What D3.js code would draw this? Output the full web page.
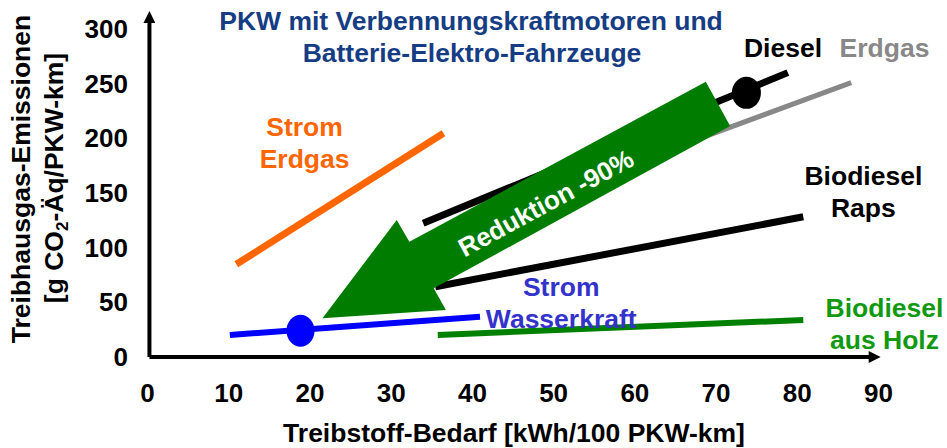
<!DOCTYPE html>
<html>
<head>
<meta charset="utf-8">
<script src="https://cdn.jsdelivr.net/npm/d3@7"></script>
<style>
  body { margin: 0; background: #fff; }
  svg { display: block; font-family: Arial, "Liberation Sans", sans-serif; font-weight: bold; }
</style>
</head>
<body>
<div id="chart"></div>
<script>
// tick values
const xTicks = [0, 10, 20, 30, 40, 50, 60, 70, 80, 90];
const yTicks = [0, 50, 100, 150, 200, 250, 300];

// series: [Treibstoff-Bedarf, Emissionen]
const stromErdgas    = [[11, 85], [36.5, 205]];
const erdgas         = [[45, 137], [86.7, 251.3]];
const diesel         = [[34, 122.5], [78.9, 260.5]];
const biodieselRaps  = [[35.5, 64.4], [80.8, 128.5]];
const stromWasser    = [[10.2, 20.2], [41, 36.9]];
const biodieselHolz  = [[35.8, 20.2], [80.8, 33.9]];

// highlighted points
const dieselPoint = [73.8, 242];
const wasserPoint = [18.9, 24.1];

// reduction arrow outline (data units)
const reductionArrow = [[68.8, 252.2], [71.8, 211.6], [35.3, 62.9], [36.8, 43.1],
                        [21.6, 35.4], [30.75, 125.5], [32.3, 105.6]];

// series labels
const labelText = [["Diesel"], ["Erdgas"], ["Strom", "Erdgas"], ["Biodiesel", "Raps"],
                   ["Strom", "Wasserkraft"], ["Biodiesel", "aus Holz"]];
const labelAt   = [[78.3, 274.8], [90.8, 274.8], [19.4, 202.4], [88.2, 157.6],
                   [51, 55.9], [90.8, 36.6]];
const labelColor = ["#000000", "#888888", "#ff6600", "#000000", "#3333cc", "#119911"];

var margin = {top: 29.5, right: 69, bottom: 91, left: 147},
    width = 947 - margin.left - margin.right,
    height = 448 - margin.top - margin.bottom;

var svg = d3.select("#chart")
  .append("svg")
    .attr("width", 947)
    .attr("height", 448)
  .append("g")
    .attr("transform", "translate(" + margin.left + "," + margin.top + ")");

var x = d3.scaleLinear().domain([0, 90]).range([0, width]);
var y = d3.scaleLinear().domain([0, 300]).range([height, 0]);

// X axis labels
var gx = svg.append("g")
  .attr("transform", "translate(0," + height + ")")
  .call(d3.axisBottom(x).tickValues(xTicks).tickSize(0).tickPadding(27));
gx.select(".domain").remove();
gx.selectAll("text").attr("font-size", "26px").attr("font-family", null).attr("fill", "#000");

// Y axis labels
var gy = svg.append("g")
  .call(d3.axisLeft(y).tickValues(yTicks).tickSize(0).tickPadding(19));
gy.select(".domain").remove();
gy.selectAll("text").attr("font-size", "26px").attr("font-family", null).attr("fill", "#000");

// axis lines with arrow heads
var defs = svg.append("defs");
defs.append("marker")
  .attr("id", "axisArrow")
  .attr("viewBox", "0 0 10 10")
  .attr("refX", 1).attr("refY", 5)
  .attr("markerWidth", 3.2).attr("markerHeight", 3)
  .attr("orient", "auto")
  .append("path")
    .attr("d", "M0,0 L10,5 L0,10 z")
    .attr("fill", "#000");

svg.append("line")
  .attr("x1", x(0.3)).attr("y1", y(0))
  .attr("x2", x(0.3)).attr("y2", y(307))
  .attr("stroke", "#000").attr("stroke-width", 4)
  .attr("marker-end", "url(#axisArrow)");
svg.append("line")
  .attr("x1", x(0.3)).attr("y1", y(0))
  .attr("x2", x(89)).attr("y2", y(0))
  .attr("stroke", "#000").attr("stroke-width", 4)
  .attr("marker-end", "url(#axisArrow)");

// series lines
var line = d3.line().x(function(d) { return x(d[0]); }).y(function(d) { return y(d[1]); });
var series = [
  {data: stromErdgas,   color: "#ff6600", w: 7},
  {data: erdgas,        color: "#888888", w: 5},
  {data: diesel,        color: "#000000", w: 7},
  {data: biodieselRaps, color: "#000000", w: 7},
  {data: stromWasser,   color: "#0000ff", w: 6},
  {data: biodieselHolz, color: "#008000", w: 6}
];
svg.selectAll(".series")
  .data(series)
  .enter().append("path")
    .attr("class", "series")
    .attr("fill", "none")
    .attr("stroke", function(d) { return d.color; })
    .attr("stroke-width", function(d) { return d.w; })
    .attr("d", function(d) { return line(d.data); });

// points
svg.append("ellipse")
  .attr("cx", x(dieselPoint[0])).attr("cy", y(dieselPoint[1]))
  .attr("rx", 14.5).attr("ry", 16).attr("fill", "#000");
svg.append("ellipse")
  .attr("cx", x(wasserPoint[0])).attr("cy", y(wasserPoint[1]))
  .attr("rx", 14).attr("ry", 16).attr("fill", "#0000ff");

// big reduction arrow
svg.append("path")
  .datum(reductionArrow)
  .attr("fill", "#007d00")
  .attr("d", d3.line().x(function(d) { return x(d[0]); }).y(function(d) { return y(d[1]); }).curve(d3.curveLinearClosed));

svg.append("text")
  .attr("transform", "translate(" + x(49.1) + "," + y(141) + ") rotate(-28.5)")
  .attr("text-anchor", "middle")
  .attr("dominant-baseline", "central")
  .attr("font-size", "26px")
  .attr("fill", "#fff")
  .text("Reduktion -90%");

// series labels
labelText.forEach(function(lines, i) {
  var t = svg.append("text")
    .attr("text-anchor", "middle")
    .attr("font-size", "26.5px")
    .attr("fill", labelColor[i]);
  lines.forEach(function(s, j) {
    t.append("tspan")
      .attr("x", x(labelAt[i][0]))
      .attr("y", y(labelAt[i][1]) + j * 32)
      .text(s);
  });
});

// title
var title = svg.append("text")
  .attr("text-anchor", "middle")
  .attr("font-size", "26.5px")
  .attr("fill", "#163d84");
title.append("tspan").attr("x", 471 - margin.left).attr("y", 30 - margin.top)
  .text("PKW mit Verbennungskraftmotoren und");
title.append("tspan").attr("x", 472 - margin.left).attr("y", 62 - margin.top)
  .text("Batterie-Elektro-Fahrzeuge");

// X axis title
svg.append("text")
  .attr("text-anchor", "middle")
  .attr("font-size", "26.5px")
  .attr("x", 514 - margin.left)
  .attr("y", 442 - margin.top)
  .text("Treibstoff-Bedarf [kWh/100 PKW-km]");

// Y axis title
var yt = svg.append("text")
  .attr("text-anchor", "middle")
  .attr("font-size", "26.5px")
  .attr("transform", "rotate(-90)");
yt.append("tspan").attr("x", -(179 - margin.top)).attr("y", 30 - margin.left)
  .text("Treibhausgas-Emissionen");
var l2 = yt.append("tspan").attr("x", -(178 - margin.top)).attr("y", 63 - margin.left);
l2.append("tspan").text("[g CO");
l2.append("tspan").attr("font-size", "17px").attr("dy", 5).text("2");
l2.append("tspan").attr("dy", -5).text("-Äq/PKW-km]");
</script>
</body>
</html>
